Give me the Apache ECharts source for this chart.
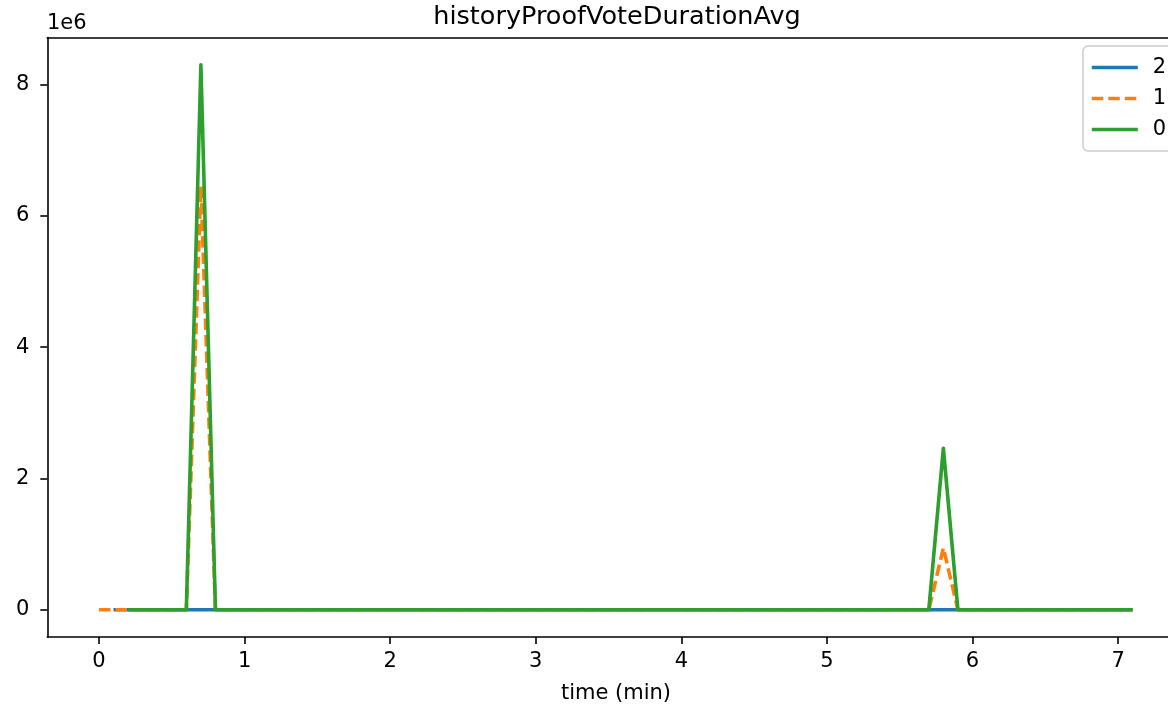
<!DOCTYPE html>
<html>
<head>
<meta charset="utf-8">
<script src="https://cdn.jsdelivr.net/npm/echarts@6/dist/echarts.min.js"></script>
<style>
  html, body { margin: 0; padding: 0; background: #fff; }
  #chart { width: 1168px; height: 709px; }
</style>
</head>
<body>
<div id="chart"></div>
<script>
// Data (time in minutes, value in raw units)
const seriesNames = ["2", "1", "0"];
const time2 = [0.1, 0.6, 0.7, 0.8, 5.7, 5.8, 5.9, 7.1];
const value2 = [0, 0, 0, 0, 0, 0, 0, 0];
const time1 = [0, 0.6, 0.7, 0.8, 5.7, 5.8, 5.9, 7.1];
const value1 = [0, 0, 6.45e6, 0, 0, 0.94e6, 0, 0];
const time0 = [0.2, 0.6, 0.7, 0.8, 5.7, 5.8, 5.9, 7.1];
const value0 = [0, 0, 8.3e6, 0, 0, 2.46e6, 0, 0];
const xTicks = [0, 1, 2, 3, 4, 5, 6, 7];
const yTicks = [0, 2e6, 4e6, 6e6, 8e6];

const FONT = "DejaVu Sans";
const X_MIN = -0.355;
const X_MAX = 7.343; // plot is cut at the right edge of the picture
const Y_MIN = -0.415e6;
const Y_MAX = 8.715e6;

// Plot box in pixels
const PLOT_LEFT = 47.3;
const PLOT_TOP = 37.5;
const PLOT_W = 1120.7;
const PLOT_H = 599.5;
const PX_PER_MIN = PLOT_W / (X_MAX - X_MIN);
const PX_PER_UNIT = PLOT_H / (Y_MAX - Y_MIN);
const X0_PX = PLOT_LEFT - X_MIN * PX_PER_MIN;
const Y0_PX = PLOT_TOP + Y_MAX * PX_PER_UNIT;
const TICK_LEN = 7;

function pairs(xs, ys) {
  return xs.map((x, i) => [x, ys[i]]);
}

// Get chart container
const chart = echarts.init(document.getElementById("chart"), null, { renderer: "canvas" });

const LW = 3.6;
const spine = () => ({ show: true, onZero: false, lineStyle: { color: "#000", width: 1.6 } });
const labelFont = { fontFamily: FONT, fontSize: 21, color: "#000" };
const hiddenAxis = (gridIndex) => ({
  gridIndex,
  type: "value",
  show: false,
  min: 0,
  max: 1,
});

// Tick marks are drawn as split lines of two thin helper grids
// whose extents are whole multiples of the tick step.
const option = {
  animation: false,
  backgroundColor: "#fff",
  title: {
    text: "historyProofVoteDurationAvg",
    left: 612,
    top: -1,
    textAlign: "center",
    textStyle: { fontFamily: FONT, fontSize: 25.5, fontWeight: "normal", color: "#000" },
  },
  graphic: [
    {
      type: "text",
      left: 47,
      top: 13,
      style: { text: "1e6", fontFamily: FONT, fontSize: 21, fill: "#000" },
    },
    {
      type: "text",
      x: 616,
      y: 694,
      style: {
        text: "time (min)",
        fontFamily: FONT,
        fontSize: 21,
        fill: "#000",
        align: "center",
        verticalAlign: "middle",
      },
    },
  ],
  legend: {
    orient: "vertical",
    left: 1083,
    top: 46,
    data: seriesNames,
    padding: [11, 40, 11, 7],
    itemWidth: 46,
    itemHeight: 14,
    itemGap: 10,
    backgroundColor: "rgba(255,255,255,0.8)",
    borderColor: "#ccc",
    borderWidth: 1.5,
    borderRadius: 5,
    itemStyle: { opacity: 0 },
    lineStyle: { width: LW },
    textStyle: { ...labelFont, padding: [0, 0, 0, 10] },
  },
  grid: [
    // main plot
    { left: PLOT_LEFT, top: PLOT_TOP, width: PLOT_W, height: PLOT_H, show: false, outerBoundsMode: "none" },
    // x tick strip under the bottom spine, x from -1 to 8
    {
      left: X0_PX - PX_PER_MIN,
      top: PLOT_TOP + PLOT_H,
      width: 9 * PX_PER_MIN,
      height: TICK_LEN,
      show: false,
      outerBoundsMode: "none",
    },
    // y tick strip left of the left spine, y from -2e6 to 10e6
    {
      left: PLOT_LEFT - TICK_LEN,
      top: Y0_PX - 10e6 * PX_PER_UNIT,
      width: TICK_LEN,
      height: 12e6 * PX_PER_UNIT,
      show: false,
      outerBoundsMode: "none",
    },
  ],
  xAxis: [
    {
      // bottom spine and labels
      gridIndex: 0,
      type: "value",
      position: "bottom",
      min: X_MIN,
      max: X_MAX,
      axisLine: spine(),
      splitLine: { show: false },
      axisTick: { show: false },
      axisLabel: {
        customValues: xTicks,
        margin: 14,
        ...labelFont,
        formatter: (v) => String(v),
      },
    },
    {
      // top spine
      gridIndex: 0,
      type: "value",
      position: "top",
      min: X_MIN,
      max: X_MAX,
      axisLine: spine(),
      axisTick: { show: false },
      axisLabel: { show: false },
      splitLine: { show: false },
    },
    {
      // x tick marks
      gridIndex: 1,
      type: "value",
      min: -1,
      max: 8,
      interval: 1,
      axisLine: { show: false },
      axisTick: { show: false },
      axisLabel: { show: false },
      splitLine: { show: true, lineStyle: { color: "#000", width: 1.6 } },
    },
    hiddenAxis(2),
  ],
  yAxis: [
    {
      gridIndex: 0,
      type: "value",
      position: "left",
      min: Y_MIN,
      max: Y_MAX,
      axisLine: spine(),
      splitLine: { show: false },
      axisTick: { show: false },
      axisLabel: {
        customValues: yTicks,
        margin: 18,
        ...labelFont,
        formatter: (v) => String(Math.round(v / 1e6)),
      },
    },
    hiddenAxis(1),
    {
      // y tick marks
      gridIndex: 2,
      type: "value",
      min: -2e6,
      max: 10e6,
      interval: 2e6,
      axisLine: { show: false },
      axisTick: { show: false },
      axisLabel: { show: false },
      splitLine: { show: true, lineStyle: { color: "#000", width: 1.6 } },
    },
  ],
  series: [
    {
      name: "2",
      type: "line",
      data: pairs(time2, value2),
      symbol: "none",
      color: "#1f77b4",
      lineStyle: { width: LW, join: "round", color: "#1f77b4", type: "solid" },
    },
    {
      name: "1",
      type: "line",
      data: pairs(time1, value1),
      symbol: "none",
      color: "#ff7f0e",
      lineStyle: { width: LW, join: "round", color: "#ff7f0e", type: [11.5, 5], cap: "butt" },
    },
    {
      name: "0",
      type: "line",
      data: pairs(time0, value0),
      symbol: "none",
      color: "#2ca02c",
      lineStyle: { width: LW, join: "round", color: "#2ca02c", type: "solid" },
    },
  ],
};

// Render chart
chart.setOption(option);
</script>
</body>
</html>
